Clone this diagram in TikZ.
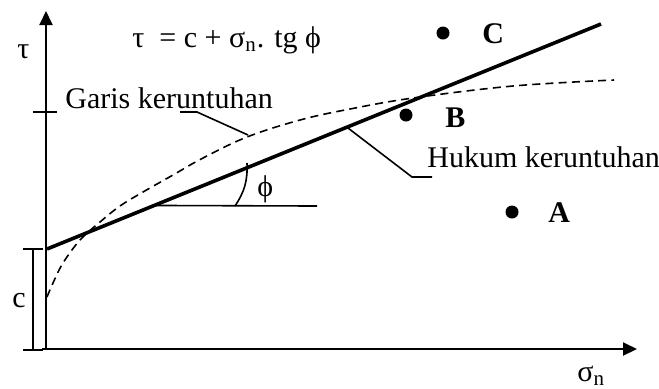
\documentclass[tikz,border=0pt]{standalone}
\usepackage{fontspec}
\setmainfont{Liberation Serif}
\usetikzlibrary{arrows.meta,positioning,calc}

\begin{document}
\begin{tikzpicture}[
x=0.5pt,y=-0.5pt,
axis/.style={-{Triangle[length=7pt,width=6.5pt]},line width=1pt},
law/.style={line width=1.8pt},
envl/.style={line width=0.8pt,dash pattern=on 4pt off 2.6pt},
thinln/.style={line width=0.8pt},
lab/.style={font=\fontsize{15}{17}\selectfont,inner sep=0pt,anchor=base west},
pt/.style={circle,fill=black,inner sep=0pt,minimum size=6.5pt},
ptlab/.style={font=\fontsize{15}{17}\selectfont\bfseries,inner sep=0pt,anchor=base west}
]
\useasboundingbox (0,0) rectangle (659,388);
% axes
\coordinate (O) at (46,349);
\coordinate (Ox) at (42,349);
\coordinate (Ytip) at (46,11);
\coordinate (Xtip) at (637,349);
\draw[axis] (O) -- (Ytip);
\draw[axis] (Ox) -- (Xtip);
\coordinate (tkL) at (33,112);
\coordinate (tkR) at (57,112);
\draw[thinln] (tkL) -- (tkR);
\node[lab] (tau) at (17,58) {τ};
\node[lab] (sig) at (577,381) {σ\textsubscript{n}};
% c bracket
\coordinate (cT) at (33,249);
\coordinate (cB) at (33,350);
\draw[thinln] (cT) -- (cB);
\draw[thinln] ($(cT)+(-10,0)$) -- ($(cT)+(10,0)$);
\draw[thinln] ($(cB)+(-10,0)$) -- ($(cB)+(10,0)$);
\node[lab] (c) at (12,307) {c};
% failure envelope
\draw[envl] plot[smooth,tension=0.6] coordinates {(47,297) (53,283) (63,263) (80,240) (100,222)
  (120,206) (143,192) (173,175) (203,158) (247,137) (300,120) (350,109) (413,98) (513,86) (614,80)};
% Coulomb law
\coordinate (L0) at (47,249);
\coordinate (L1) at (601,24);
\draw[law] (L0) -- (L1);
\coordinate (V) at ($(L0)!0.1935!(L1)$);
\coordinate (H) at (317,206);
\draw[thinln] (V) -- (H);
\coordinate (aB) at (235,206);
\coordinate (aT) at (247,163);
\draw[thinln] (aB) to[bend right=18] (aT);
\node[lab] (phi) at (257,196) {ϕ};
\node[lab] (eq) at (132,47) {τ \ = c + σ\textsubscript{n}. tg ϕ};
% labels with leaders
\node[lab] (garis) at (65,108) {Garis keruntuhan};
\coordinate (g1) at (180,112);
\coordinate (g2) at (197,112);
\coordinate (g3) at (248,135);
\draw[thinln] (g1) -- (g2) -- (g3);
\node[lab] (hukum) at (427,167) {Hukum keruntuhan};
\coordinate (h1) at (348,128);
\coordinate (h2) at (412,177);
\coordinate (h3) at (432,177);
\draw[thinln] (h1) -- (h2) -- (h3);
% stress states
\node[pt] (A) at (512,212) {};
\node[ptlab] (Alab) at (548,222) {A};
\node[pt] (B) at (406,115) {};
\node[ptlab] (Blab) at (445,127) {B};
\node[pt] (C) at (443,33) {};
\node[ptlab] (Clab) at (482,43) {C};
\end{tikzpicture}
\end{document}
